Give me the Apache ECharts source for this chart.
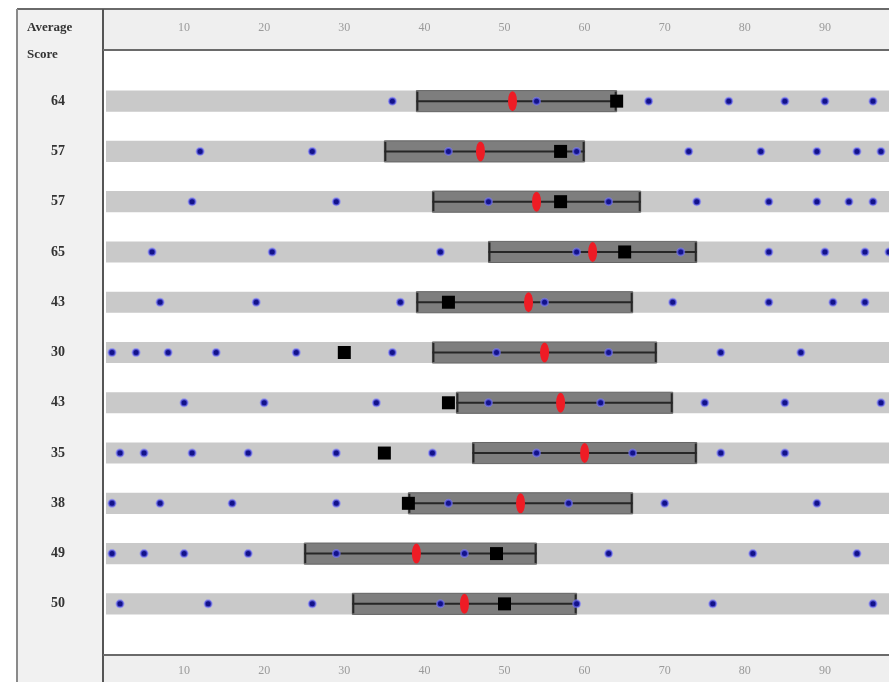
<!DOCTYPE html>
<html>
<head>
<meta charset="utf-8">
<script src="https://cdn.jsdelivr.net/npm/echarts@6/dist/echarts.min.js"></script>
<style>
html,body{margin:0;padding:0;background:#fff;}
#chart{width:889px;height:682px;}
</style>
</head>
<body>
<div id="chart"></div>
<script>
// Row labels: average score per row (top to bottom)
const averageScores = ['64','57','57','65','43','30','43','35','38','49','50'];
// Dark range bar start / end per row
const rangeStart = [39, 35, 41, 48, 39, 41, 44, 46, 38, 25, 31];
const rangeEnd   = [64, 60, 67, 74, 66, 69, 71, 74, 66, 54, 59];
// Red marker value per row
const redMarks   = [51, 47, 54, 61, 53, 55, 57, 60, 52, 39, 45];
// Black marker (average) per row
const blackMarks = [64, 57, 57, 65, 43, 30, 43, 35, 38, 49, 50];
// Blue dot values per row
const blueDots = [
  [36, 54, 68, 78, 85, 90, 96],
  [12, 26, 43, 59, 73, 82, 89, 94, 97],
  [11, 29, 48, 63, 74, 83, 89, 93, 96],
  [6, 21, 42, 59, 72, 83, 90, 95, 98],
  [7, 19, 37, 55, 71, 83, 91, 95],
  [1, 4, 8, 14, 24, 36, 49, 63, 77, 87],
  [10, 20, 34, 48, 62, 75, 85, 97],
  [2, 5, 11, 18, 29, 41, 54, 66, 77, 85],
  [1, 7, 16, 29, 43, 58, 70, 89],
  [1, 5, 10, 18, 29, 45, 63, 81, 94],
  [2, 13, 26, 42, 59, 76, 96]
];
// visible part of the 0-100 scale (picture is cut off on the right)
const scaleMin = 0, scaleMax = 98, scaleStep = 10;

const bgData = averageScores.map((_, i) => [scaleMin, scaleMax, i]);
const rangeData = averageScores.map((_, i) => [rangeStart[i], rangeEnd[i], i]);
const redData = redMarks.map((v, i) => [v, i]);
const blackData = blackMarks.map((v, i) => [v, i]);
const blueData = [];
blueDots.forEach((row, i) => row.forEach(v => blueData.push([v, i])));

function renderBg(params, api) {
  const y = api.value(2);
  const s = api.coord([api.value(0), y]);
  const e = api.coord([api.value(1), y]);
  const h = api.size([0, 1])[1] * 0.42;
  return {
    type: 'rect',
    shape: { x: s[0] + 2, y: s[1] - h / 2, width: e[0] - s[0], height: h },
    style: { fill: '#c9c9c9' }
  };
}

function renderRange(params, api) {
  const y = api.value(2);
  const s = api.coord([api.value(0), y]);
  const e = api.coord([api.value(1), y]);
  const h = api.size([0, 1])[1] * 0.42;
  const c = '#262626';
  return {
    type: 'group',
    children: [
      { type: 'rect', shape: { x: s[0], y: s[1] - h / 2, width: e[0] - s[0], height: h },
        style: { fill: '#7e7e7e', stroke: '#666', lineWidth: 1 } },
      { type: 'line', shape: { x1: s[0], y1: s[1], x2: e[0], y2: s[1] },
        style: { stroke: c, lineWidth: 2 } },
      { type: 'line', shape: { x1: s[0] + 1, y1: s[1] - h / 2 + 1, x2: s[0] + 1, y2: s[1] + h / 2 - 1 },
        style: { stroke: c, lineWidth: 2 } },
      { type: 'line', shape: { x1: e[0] - 1, y1: s[1] - h / 2 + 1, x2: e[0] - 1, y2: s[1] + h / 2 - 1 },
        style: { stroke: c, lineWidth: 2 } }
    ]
  };
}

const tickFont = { color: '#9a9a9a', fontSize: 12, fontFamily: 'Liberation Serif' };

const chart = echarts.init(document.getElementById('chart'));
chart.setOption({
  animation: false,
  backgroundColor: '#ffffff',
  grid: { left: 104, right: 0, top: 76, bottom: 53, containLabel: false, outerBoundsMode: 'none' },
  xAxis: [
    { type: 'value', position: 'bottom', offset: 26, min: scaleMin, max: scaleMax, interval: scaleStep,
      axisLine: { show: false }, axisTick: { show: false }, splitLine: { show: false },
      axisLabel: Object.assign({ margin: 10, showMinLabel: false, showMaxLabel: false }, tickFont) },
    { type: 'value', position: 'top', offset: 26, min: scaleMin, max: scaleMax, interval: scaleStep,
      axisLine: { show: false }, axisTick: { show: false }, splitLine: { show: false },
      axisLabel: Object.assign({ margin: 16, showMinLabel: false, showMaxLabel: false }, tickFont) }
  ],
  yAxis: {
    type: 'category', inverse: true, data: averageScores,
    axisLine: { show: false }, axisTick: { show: false }, splitLine: { show: false },
    axisLabel: { align: 'center', margin: 46, color: '#333', fontSize: 14, fontWeight: 'bold',
      fontFamily: 'Liberation Serif' }
  },
  graphic: [
    { type: 'rect', z: -5, shape: { x: 18, y: 9, width: 85, height: 673 }, style: { fill: '#f1f1f1' } },
    { type: 'rect', z: -5, shape: { x: 103, y: 9, width: 786, height: 41 }, style: { fill: '#efefef' } },
    { type: 'rect', z: -5, shape: { x: 103, y: 655, width: 786, height: 27 }, style: { fill: '#efefef' } },
    { type: 'line', z: -4, shape: { x1: 17, y1: 9, x2: 889, y2: 9 }, style: { stroke: '#6a6a6a', lineWidth: 2 } },
    { type: 'line', z: -4, shape: { x1: 17, y1: 9, x2: 17, y2: 682 }, style: { stroke: '#8a8a8a', lineWidth: 2 } },
    { type: 'line', z: -4, shape: { x1: 103, y1: 9, x2: 103, y2: 682 }, style: { stroke: '#555', lineWidth: 2 } },
    { type: 'line', z: -4, shape: { x1: 103, y1: 50, x2: 889, y2: 50 }, style: { stroke: '#6a6a6a', lineWidth: 2 } },
    { type: 'line', z: -4, shape: { x1: 103, y1: 655, x2: 889, y2: 655 }, style: { stroke: '#6a6a6a', lineWidth: 2 } },
    { type: 'text', left: 27, top: 21, style: { text: 'Average', fill: '#333', font: 'bold 13px "Liberation Serif"' } },
    { type: 'text', left: 27, top: 48, style: { text: 'Score', fill: '#333', font: 'bold 13px "Liberation Serif"' } }
  ],
  series: [
    { type: 'custom', name: 'background', renderItem: renderBg, data: bgData, z: 1,
      encode: { x: [0, 1], y: 2 } },
    { type: 'custom', name: 'range', renderItem: renderRange, data: rangeData, z: 2,
      encode: { x: [0, 1], y: 2 } },
    { type: 'scatter', name: 'dots', data: blueData, symbol: 'circle', symbolSize: 7, z: 3,
      itemStyle: { color: '#12128a', borderColor: 'rgba(120,120,255,0.6)', borderWidth: 2, opacity: 1 } },
    { type: 'scatter', name: 'red', data: redData, symbol: 'circle', symbolSize: [9, 20], z: 4,
      itemStyle: { color: '#ee1c25', opacity: 1 } },
    { type: 'scatter', name: 'average', data: blackData, symbol: 'rect', symbolSize: 13, z: 5,
      itemStyle: { color: '#000000', opacity: 1 } }
  ]
});
</script>
</body>
</html>
